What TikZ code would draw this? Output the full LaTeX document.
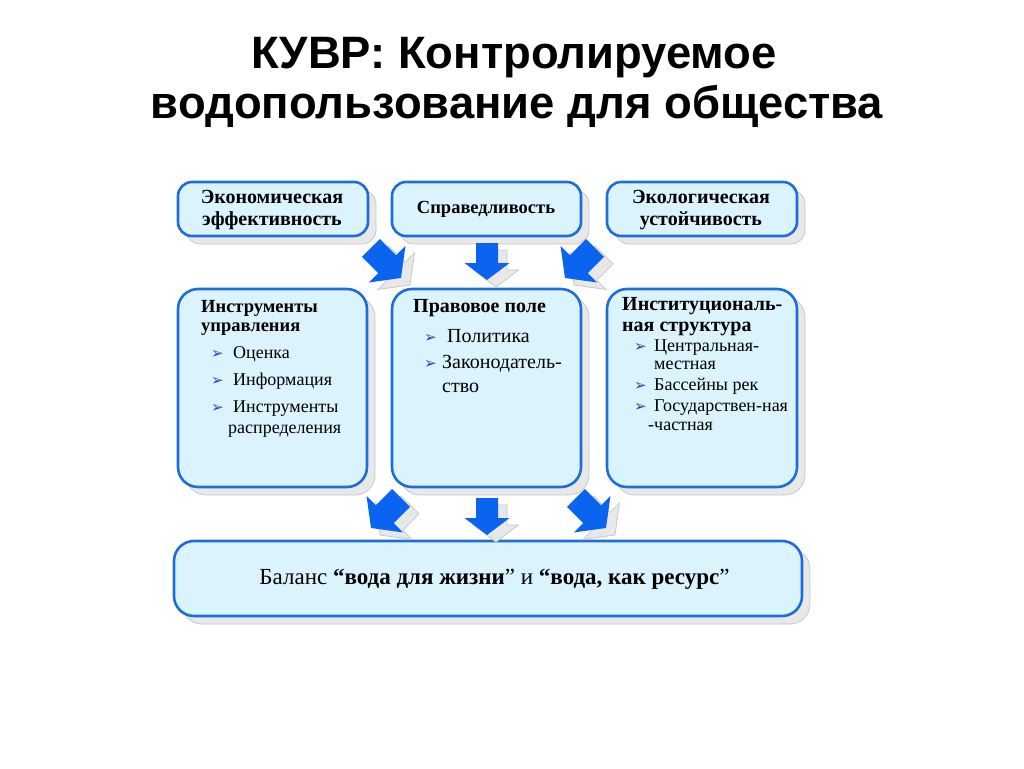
\documentclass[tikz,border=0pt]{standalone}
\usepackage{fontspec}
\setmainfont{Liberation Serif}
\newfontfamily\titlefont{Liberation Sans}
\newfontfamily\symfont{DejaVu Sans}
\usetikzlibrary{shadows}
\definecolor{boxblue}{RGB}{30,110,215}
\definecolor{boxfill}{RGB}{218,243,253}
\definecolor{arrblue}{RGB}{10,100,240}
\definecolor{bulletcol}{RGB}{40,70,170}
\definecolor{shadowfill}{RGB}{232,232,232}
\definecolor{shadowedge}{RGB}{200,200,200}
\tikzset{
  box/.style={draw=boxblue, line width=2.6pt, fill=boxfill, rounded corners=14pt, inner sep=0pt,
    drop shadow={shadow xshift=8pt, shadow yshift=-8pt, fill=shadowfill, draw=shadowedge, line width=0.8pt, opacity=1}},
  bigbox/.style={box, rounded corners=20pt},
  toptext/.style={align=center, font=\bfseries\fontsize{20}{22}\selectfont, inner sep=0pt},
  head/.style={anchor=base west, inner sep=0pt, font=\bfseries\fontsize{20}{22}\selectfont},
  item/.style={anchor=base west, inner sep=0pt, font=\fontsize{18}{22}\selectfont},
  bul/.style={anchor=base west, inner sep=0pt, text=bulletcol, font=\symfont\fontsize{15}{16}\selectfont},
  titletext/.style={font=\titlefont\bfseries\fontsize{45.4}{52}\selectfont, inner sep=0pt, anchor=base},
  arrfill/.pic={\fill[arrblue] (-11,-37) -- (11,-37) -- (11,-17) -- (22.5,-17) -- (0,0) -- (-22.5,-17) -- (-11,-17) -- cycle;},
  arrshadow/.pic={\filldraw[fill=shadowfill, draw=shadowedge, line width=0.8pt] (-11,-37) -- (11,-37) -- (11,-17) -- (22.5,-17) -- (0,0) -- (-22.5,-17) -- (-11,-17) -- cycle;}
}
\begin{document}
\begin{tikzpicture}[x=1pt,y=-1pt]
\useasboundingbox (0,0) rectangle (1024,768);
\fill[white] (0,0) rectangle (1024,768);

% title
\node[titletext] (t1) at (514,68) {КУВР: Контролируемое};
\node[titletext] (t2) at (517,118) {водопользование для общества};

% top boxes
\node[box, minimum width=190pt, minimum height=54pt] (b1) at (273,209) {};
\node[box, minimum width=189pt, minimum height=54pt] (b2) at (486.5,209) {};
\node[box, minimum width=190pt, minimum height=54pt] (b3) at (702,209) {};
\node[toptext] (b1t) at (272,210) {Экономическая\\эффективность};
\node[toptext, font=\bfseries\fontsize{18.5}{22}\selectfont] (b2t) at (486,209) {Справедливость};
\node[toptext] (b3t) at (701,210) {Экологическая\\устойчивость};

% middle boxes
\node[bigbox, minimum width=189pt, minimum height=198pt] (m1) at (272.5,388) {};
\node[bigbox, minimum width=189pt, minimum height=198pt] (m2) at (486.5,388) {};
\node[bigbox, minimum width=190pt, minimum height=198pt] (m3) at (702,388) {};

% bottom box
\node[bigbox, minimum width=628pt, minimum height=75pt] (bb) at (488,578.5) {};
\node[inner sep=0pt, anchor=base, font=\fontsize{23}{26}\selectfont] (bbt) at (494.5,584)
  {Баланс \textbf{“вода для жизни}” и \textbf{“вода, как ресурс}”};

% m1 text
\node[head, font=\bfseries\fontsize{18.5}{22}\selectfont] (m1h1) at (201,312) {Инструменты};
\node[head, font=\bfseries\fontsize{18.5}{22}\selectfont] (m1h2) at (201,331) {управления};
\node[bul] (m1b1) at (211,358) {➢};
\node[item] (m1i1) at (233,358) {Оценка};
\node[bul] (m1b2) at (211,385) {➢};
\node[item] (m1i2) at (233,385) {Информация};
\node[bul] (m1b3) at (211,412) {➢};
\node[item] (m1i3) at (233,412) {Инструменты};
\node[item] (m1i4) at (228,433) {распределения};

% m2 text
\node[head] (m2h) at (413,312) {Правовое поле};
\node[bul] (m2b1) at (424,342) {➢};
\node[item, font=\fontsize{20}{22}\selectfont] (m2i1) at (447,342) {Политика};
\node[bul] (m2b2) at (424,368) {➢};
\node[item, font=\fontsize{20}{22}\selectfont] (m2i2) at (442,368) {Законодатель-};
\node[item, font=\fontsize{20}{22}\selectfont] (m2i3) at (442,392) {ство};

% m3 text
\node[head] (m3h1) at (622,310) {Институциональ-};
\node[head] (m3h2) at (622,331) {ная структура};
\node[bul] (m3b1) at (634,351) {➢};
\node[item] (m3i1) at (654,351) {Центральная-};
\node[item] (m3i2) at (654,369) {местная};
\node[bul] (m3b2) at (634,390) {➢};
\node[item] (m3i3) at (654,390) {Бассейны рек};
\node[bul] (m3b3) at (634,411) {➢};
\node[item] (m3i4) at (654,411) {Государствен-ная};
\node[item] (m3i5) at (648,430) {-частная};

% arrows (tips)
\coordinate (a1) at (401,278);
\coordinate (a2) at (487,280);
\coordinate (a3) at (565,278);
\coordinate (a4) at (371,528);
\coordinate (a5) at (487,535);
\coordinate (a6) at (606,528);
\foreach \c/\r/\s in {a1/45/1.15,a2/0/1,a3/-45/1.15,a4/-45/1.15,a5/0/1,a6/45/1.15}{
  \pic[rotate=\r, scale=\s] at ([shift={(9,7)}]\c) {arrshadow};
}
\foreach \c/\r/\s in {a1/45/1.15,a2/0/1,a3/-45/1.15,a4/-45/1.15,a5/0/1,a6/45/1.15}{
  \pic[rotate=\r, scale=\s] at (\c) {arrfill};
}
\end{tikzpicture}
\end{document}
